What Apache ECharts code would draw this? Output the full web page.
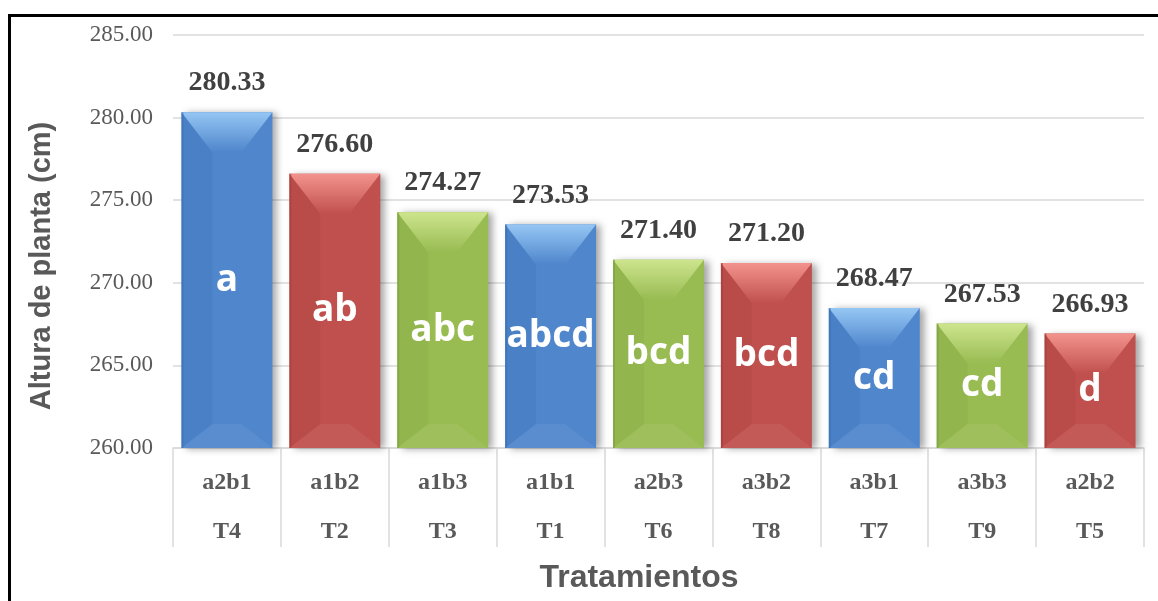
<!DOCTYPE html>
<html>
<head>
<meta charset="utf-8">
<script src="https://cdn.jsdelivr.net/npm/echarts@6/dist/echarts.min.js"></script>
<style>
  html, body { margin: 0; padding: 0; background: #fff; }
  #chart { width: 1158px; height: 601px; }
</style>
</head>
<body>
<div id="chart"></div>
<script>
// data
var codes = ['a2b1', 'a1b2', 'a1b3', 'a1b1', 'a2b3', 'a3b2', 'a3b1', 'a3b3', 'a2b2'];
var treatments = ['T4', 'T2', 'T3', 'T1', 'T6', 'T8', 'T7', 'T9', 'T5'];
var heights = [280.33, 276.60, 274.27, 273.53, 271.40, 271.20, 268.47, 267.53, 266.93];
var letters = ['a', 'ab', 'abc', 'abcd', 'bcd', 'bcd', 'cd', 'cd', 'd'];
var yTicks = [260, 265, 270, 275, 280, 285];

// colour per bar (blue / red / green as in the sheet)
var palette = {
  blue:  { main: '#4f86cc', light: '#95c6f4', dark: '#3a6aad' },
  red:   { main: '#c0504d', light: '#f3938d', dark: '#9c3b39' },
  green: { main: '#98bb52', light: '#cde58e', dark: '#7a9a3e' }
};
var barColors = ['blue', 'red', 'green', 'blue', 'green', 'red', 'blue', 'green', 'red'];

var chart = echarts.init(document.getElementById('chart'));

function renderBar(params, api) {
  var i = params.dataIndex;
  var v = api.value(1);
  var top = api.coord([api.value(0), v]);
  var base = api.coord([api.value(0), yTicks[0]]);
  var w = api.size([1, 0])[0] * 0.843;
  var x0 = top[0] - w / 2, x1 = top[0] + w / 2;
  var y0 = top[1], yb = base[1];
  var h = yb - y0;
  var dx = w * 0.34;
  var dyT = Math.min(40, h / 2);
  var dyB = Math.min(24, h / 2);
  var c = palette[barColors[i]];

  return {
    type: 'group',
    children: [
      {
        type: 'rect',
        shape: { x: x0, y: y0, width: w, height: h },
        style: {
          fill: c.main,
          shadowBlur: 7,
          shadowOffsetX: 5,
          shadowOffsetY: 1,
          shadowColor: 'rgba(0,0,0,0.35)'
        }
      },
      {
        // left side, a bit darker
        type: 'polygon',
        shape: { points: [[x0, y0], [x0 + dx, y0 + dyT], [x0 + dx, yb - dyB], [x0, yb]] },
        style: { fill: c.dark, opacity: 0.18 }
      },
      {
        // bottom facet
        type: 'polygon',
        shape: { points: [[x0, yb], [x0 + dx, yb - dyB], [x1 - dx, yb - dyB], [x1, yb]] },
        style: { fill: 'rgba(255,255,255,0.06)' }
      },
      {
        // top facet, light
        type: 'polygon',
        shape: { points: [[x0, y0], [x1, y0], [x1 - dx, y0 + dyT], [x0 + dx, y0 + dyT]] },
        style: {
          fill: new echarts.graphic.LinearGradient(0, 0, 0, 1, [
            { offset: 0, color: c.light },
            { offset: 1, color: c.main }
          ])
        }
      },
      {
        type: 'rect',
        shape: { x: x0, y: y0, width: 2, height: h },
        style: { fill: c.dark, opacity: 0.5 }
      },
      {
        type: 'text',
        style: {
          text: v.toFixed(2),
          x: top[0],
          y: y0 - 15,
          align: 'center',
          verticalAlign: 'bottom',
          fontFamily: 'Liberation Serif',
          fontWeight: 'bold',
          fontSize: 28,
          fill: '#404040'
        }
      },
      {
        type: 'text',
        style: {
          text: letters[i],
          x: top[0],
          y: (y0 + yb) / 2,
          align: 'center',
          verticalAlign: 'middle',
          fontFamily: 'Open Sans',
          fontWeight: 'bold',
          fontSize: 37,
          fill: '#ffffff'
        }
      }
    ]
  };
}

var option = {
  animation: false,
  backgroundColor: '#fff',
  grid: { left: 173, right: 14, top: 35, bottom: 153 },
  xAxis: {
    type: 'category',
    data: codes.map(function (c, i) { return c + '\n' + treatments[i]; }),
    axisLine: { lineStyle: { color: '#d9d9d9', width: 1.5 } },
    axisTick: {
      show: true,
      interval: 0,
      length: 99,
      lineStyle: { color: '#d9d9d9', width: 1.5 }
    },
    axisLabel: {
      interval: 0,
      margin: 10,
      lineHeight: 49,
      fontFamily: 'Liberation Serif',
      fontWeight: 'bold',
      fontSize: 24,
      color: '#595959'
    }
  },
  yAxis: {
    type: 'value',
    min: yTicks[0],
    max: yTicks[yTicks.length - 1],
    interval: 5,
    axisLine: { show: false },
    axisTick: { show: false },
    axisLabel: {
      margin: 20,
      fontFamily: 'Liberation Serif',
      fontSize: 23,
      color: '#595959',
      formatter: function (v) { return v.toFixed(2); }
    },
    splitLine: { lineStyle: { color: '#d9d9d9', width: 1.5 } }
  },
  graphic: [
    {
      type: 'rect',
      shape: { x: 9.5, y: 15.5, width: 1300, height: 800 },
      style: { fill: 'none', stroke: '#000', lineWidth: 3 },
      silent: true
    },
    {
      type: 'text',
      x: 42,
      y: 266,
      rotation: Math.PI / 2,
      style: {
        text: 'Altura de planta (cm)',
        align: 'center',
        verticalAlign: 'middle',
        fontFamily: 'Liberation Sans',
        fontWeight: 'bold',
        fontSize: 29,
        fill: '#595959'
      }
    },
    {
      type: 'text',
      x: 639,
      y: 578,
      style: {
        text: 'Tratamientos',
        align: 'center',
        verticalAlign: 'middle',
        fontFamily: 'Liberation Sans',
        fontWeight: 'bold',
        fontSize: 32,
        fill: '#595959'
      }
    }
  ],
  series: [
    {
      type: 'custom',
      renderItem: renderBar,
      encode: { x: 0, y: 1 },
      data: heights.map(function (v, i) { return [i, v]; })
    }
  ]
};

chart.setOption(option);
</script>
</body>
</html>
